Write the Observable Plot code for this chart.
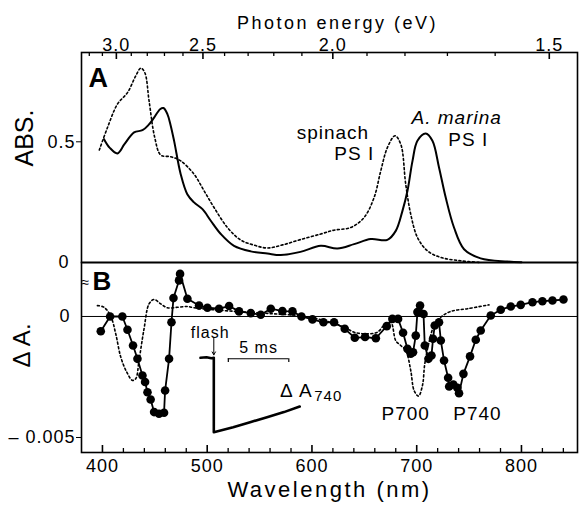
<!DOCTYPE html>
<html>
<head>
<meta charset="utf-8">
<script src="https://cdn.jsdelivr.net/npm/d3@7"></script>
<script src="https://cdn.jsdelivr.net/npm/@observablehq/plot@0.6"></script>
<style>
  body { margin: 0; background: white; }
  #wrap { position: relative; width: 581px; height: 506px; background: white; }
  #wrap svg { display: block; overflow: visible; }
  #wrap svg text { letter-spacing: 1px; }
  #inset { position: absolute; left: 195px; top: 320px; }
</style>
</head>
<body>
<div id="wrap">
  <div id="a"></div>
  <div id="b"></div>
  <div id="inset"></div>
</div>
<script>
const HC = 1239.84; // nm·eV

// ---------- Axis tick values ----------
const energyMajor = [3.0, 2.5, 2.0, 1.5];
const energyMinor = [3.2, 3.1, 2.9, 2.8, 2.7, 2.6, 2.4, 2.3, 2.2, 2.1, 1.9, 1.8, 1.7, 1.6];
const wlMajor = [400, 500, 600, 700, 800];
const wlMinor = [420, 440, 460, 480, 520, 540, 560, 580, 620, 640, 660, 680, 720, 740, 760, 780, 820, 840];
const absTicks = [0, 0.5];
const dATicks = [0, -0.005];

// ---------- Panel A: absorption spectra (wavelength nm, ABS) ----------
const marinaAbsWl = [401.5,407,414.3,421,430.2,438.2,444,449.3,455,458.2,462,465,468.4,474.7,481,487.4,495.5,503.4,513,525.6,541.6,557.5,570.2,589,608.4,624.3,640.2,656.1,672,680,686.4,691.2,696,700.7,708.6,715,721.3,727.7,735.6,745.2,761,786.6,800];
const marinaAbs   = [0.511,0.475,0.452,0.49,0.539,0.548,0.57,0.60,0.635,0.64,0.615,0.57,0.504,0.366,0.283,0.249,0.221,0.173,0.118,0.069,0.046,0.037,0.031,0.044,0.069,0.058,0.076,0.097,0.094,0.131,0.214,0.297,0.421,0.504,0.534,0.504,0.394,0.269,0.145,0.055,0.017,0.004,0.001];

const spinachAbsWl = [397,404.8,414.3,423.9,431.8,436.6,440.4,444.5,449.9,455.7,465.2,474.7,487.4,497,506.5,519.3,532,544.7,557.5,572,589,608.4,621,637,649.7,659.3,665.7,672,679.3,684.8,689.5,694.3,700.7,710.3,723,742,761];
const spinachAbs   = [0.466,0.559,0.656,0.704,0.773,0.805,0.787,0.67,0.518,0.445,0.438,0.421,0.366,0.297,0.228,0.145,0.093,0.072,0.06,0.073,0.095,0.118,0.134,0.145,0.186,0.269,0.38,0.476,0.525,0.49,0.325,0.2,0.104,0.048,0.021,0.007,0];

// ---------- Panel B: flash-induced difference spectra (wavelength nm, ΔA) ----------
const marinaDAWl = [398.4,407.3,419,423.9,429.2,433.4,438.2,440.7,443,446,449.3,454,458.8,459.8,463.6,465.9,467.8,473.1,474.1,481.1,492.2,500.2,511.3,520.9,530.4,541.6,551.1,560.7,571.8,581.4,590,600.5,611,621.1,631.3,640.9,650.7,661,671.4,676.8,682.2,687,691.2,694.3,696.5,699.1,700.7,703.2,706.5,707.7,711.2,714.1,715.6,717.2,721.3,723,726.1,730,731,735,738.9,740.4,744.6,750.9,756.4,761.1,770.7,780.2,789.8,799.3,810.5,820,829.6,840.1];
const marinaDA   = [-0.00061,0,0,-0.00055,-0.0012,-0.00175,-0.00244,-0.00271,-0.00313,-0.00343,-0.00395,-0.00402,-0.00398,-0.00306,-0.00175,-0.00024,0.00076,0.00149,0.00176,0.00073,0.00045,0.00036,0.00032,0.00043,0.00021,0.00014,0.00007,0.00032,0.00022,0.00021,0,-0.00012,-0.00024,-0.00024,-0.00051,-0.00088,-0.00085,-0.0009,-0.0004,-0.0001,-0.0001,-0.00067,-0.00134,-0.00154,-0.00148,-0.00079,0.00018,0.00045,0.0001,-0.0012,-0.00175,-0.00161,-0.00092,-0.00037,-0.00024,-0.00099,-0.00182,-0.00253,-0.00289,-0.00281,-0.00295,-0.00317,-0.00237,-0.00165,-0.00096,-0.00058,0.00004,0.00028,0.00041,0.00048,0.00059,0.00063,0.00066,0.0007];

const spinachDAWl = [395.2,401.5,408,412.7,417.5,423.2,428.6,431.8,434.9,439.7,444.5,449.3,455.7,462,471.6,481.1,487.4,500,530,560,590,610,630.7,640.2,653,662.5,668.8,675.2,680,684.8,689.5,694.3,697.5,701.7,705.5,707.7,711.8,716.6,723,732.5,748.4,769];
const spinachDA   = [0.00045,0.00038,0,-0.00072,-0.00168,-0.0023,-0.00264,-0.00257,-0.00182,-0.00051,0.00052,0.0007,0.00052,0.00036,0.00038,0.00041,0.00036,0.0003,0.0002,0.00012,0.00002,-0.00015,-0.00044,-0.00065,-0.00072,-0.00065,-0.00037,-0.00024,-0.001,-0.0012,-0.0014,-0.00223,-0.00306,-0.00329,-0.00285,-0.00196,-0.00106,-0.00037,-0.00003,0.00021,0.00032,0.00048];

// ---------- Inset: kinetic trace of ΔA740 (time ms, relative ΔA) ----------
const traceT = [-1.1,-0.6,-0.2,0,0,1.6,3,4.4,5.8,7.1];
const traceS = [0,0.008,-0.005,0,-1,-0.933,-0.866,-0.798,-0.73,-0.655];

// ---------- Annotations ----------
const labelsA = [
  {text: "spinach", x: 620, y: 0.537, italic: false},
  {text: "PS I", x: 640.4, y: 0.45, italic: false},
  {text: "A. marina", x: 738.2, y: 0.597, italic: true},
  {text: "PS I", x: 749.2, y: 0.506, italic: false}
];
const labelsB = [
  {text: "P700", x: 689.5, y: -0.00403},
  {text: "P740", x: 758, y: -0.00403}
];

// ---------- Build tables ----------
const zip = (xs, ys) => xs.map((x, i) => ({x, y: ys[i]}));
const marinaA = zip(marinaAbsWl, marinaAbs);
const spinachA = zip(spinachAbsWl, spinachAbs);
const marinaB = zip(marinaDAWl, marinaDA);
const spinachB = zip(spinachDAWl, spinachDA);
const trace = zip(traceT, traceS);

const W = 581, ML = 81, MR = 4;
const xDomain = [380, 853.5];
const FONT = "'Liberation Sans', Arial, Helvetica, sans-serif";
const baseStyle = {fontFamily: FONT, fontSize: "18px", color: "black", background: "white", overflow: "visible"};

const hA = 262, mtA = 52;
const innerA = hA - mtA;
const plotA = Plot.plot({
  width: W, height: hA, marginTop: mtA, marginBottom: 0, marginLeft: ML, marginRight: MR,
  x: {domain: xDomain, axis: null},
  y: {domain: [0, 0.87], axis: null},
  style: baseStyle,
  marks: [
    Plot.frame({stroke: "black", strokeWidth: 1.6}),
    Plot.axisX({anchor: "top", ticks: energyMajor.map(e => HC / e), tickFormat: d => (HC / d).toFixed(1),
      tickSize: 0, tickPadding: 2, label: null, fontSize: 18}),
    Plot.tickX(energyMinor.map(e => HC / e), {insetBottom: innerA - 4, strokeWidth: 1.3}),
    Plot.tickX(energyMajor.map(e => HC / e), {insetBottom: innerA - 7, strokeWidth: 1.6}),
    Plot.axisY({ticks: absTicks.filter(d => d !== 0), tickFormat: () => "0.5", tickSize: 5, tickPadding: 1, label: null, fontSize: 18}),
    Plot.axisY({ticks: absTicks.filter(d => d === 0), tickFormat: () => "0", tickSize: 0, tickPadding: 12, label: null, fontSize: 18}),
    Plot.text(["Photon energy (eV)"], {frameAnchor: "top", lineAnchor: "middle", dy: -29, dx: 8, fontSize: 18}),
    Plot.text(["ABS."], {frameAnchor: "left", lineAnchor: "middle", dx: -57, dy: 9, rotate: -90, fontSize: 25}),
    Plot.text(["A"], {frameAnchor: "top-left", lineAnchor: "middle", dx: 7, dy: 26, fontSize: 27, fontWeight: "bold", textAnchor: "start"}),
    Plot.line(spinachA, {x: "x", y: "y", curve: "catmull-rom", stroke: "black", strokeWidth: 1.6, strokeDasharray: "2,2.5"}),
    Plot.line(marinaA, {x: "x", y: "y", curve: "catmull-rom", stroke: "black", strokeWidth: 2}),
    Plot.text(labelsA.filter(d => !d.italic), {x: "x", y: "y", text: "text", fontSize: 19}),
    Plot.text(labelsA.filter(d => d.italic), {x: "x", y: "y", text: "text", fontSize: 19, fontStyle: "italic"})
  ]
});

const hB = 244, mbB = 54;
const innerB = hB - mbB;
const plotB = Plot.plot({
  width: W, height: hB, marginTop: 0, marginBottom: mbB, marginLeft: ML, marginRight: MR,
  x: {domain: xDomain, axis: null},
  y: {domain: [-0.00562, 0.00223], axis: null},
  style: baseStyle,
  marks: [
    Plot.frame({stroke: "black", strokeWidth: 1.6}),
    Plot.ruleY([0], {stroke: "black", strokeWidth: 1}),
    Plot.axisX({anchor: "bottom", ticks: wlMajor, tickFormat: d => String(d), tickSize: 0, tickPadding: 7, label: null, fontSize: 18}),
    Plot.tickX(wlMinor, {insetTop: innerB - 4, strokeWidth: 1.3}),
    Plot.tickX(wlMajor, {insetTop: innerB - 7, strokeWidth: 1.6}),
    Plot.axisY({ticks: dATicks.filter(d => d !== 0), tickFormat: () => "– 0.005", tickSize: 5, tickPadding: 1, label: null, fontSize: 18}),
    Plot.axisY({ticks: dATicks.filter(d => d === 0), tickFormat: () => "0", tickSize: 0, tickPadding: 11, label: null, fontSize: 18}),
    Plot.text(["≈"], {frameAnchor: "top-left", lineAnchor: "middle", dy: 20, fontSize: 14}),
    Plot.text(["Wavelength (nm)"], {frameAnchor: "bottom", lineAnchor: "middle", dy: 37, fontSize: 22}),
    Plot.text(["Δ A."], {frameAnchor: "left", lineAnchor: "middle", dx: -59, dy: 10, rotate: -90, fontSize: 24}),
    Plot.text(["B"], {frameAnchor: "top-left", lineAnchor: "middle", dx: 11, dy: 19, fontSize: 26, fontWeight: "bold", textAnchor: "start"}),
    Plot.line(spinachB, {x: "x", y: "y", curve: "catmull-rom", stroke: "black", strokeWidth: 1.6, strokeDasharray: "2,2.5"}),
    Plot.line(marinaB, {x: "x", y: "y", stroke: "black", strokeWidth: 1.8}),
    Plot.dot(marinaB, {x: "x", y: "y", r: 4.3, fill: "black", stroke: "none"}),
    Plot.text(labelsB, {x: "x", y: "y", text: "text", fontSize: 19})
  ]
});

// Inset kinetic trace
const scaleBar = [{t1: 1.2, t2: 6.2, s: -0.013}];
const insetPlot = Plot.plot({
  width: 160, height: 130, margin: 0,
  x: {domain: [-1.1, 7.2], range: [5, 105.4], axis: null},
  y: {domain: [-1, 0], range: [111.7, 37.3], axis: null},
  style: {fontFamily: FONT, fontSize: "16px", background: "transparent", overflow: "visible"},
  marks: [
    Plot.line(trace, {x: "x", y: "y", stroke: "black", strokeWidth: 2.6}),
    Plot.ruleY(scaleBar, {x1: "t1", x2: "t2", y: "s", stroke: "black", strokeWidth: 1.2}),
    Plot.ruleX(scaleBar, {x: "t1", y1: "s", y2: d => d.s - 0.05, stroke: "black", strokeWidth: 1.2}),
    Plot.ruleX(scaleBar, {x: "t2", y1: "s", y2: d => d.s - 0.05, stroke: "black", strokeWidth: 1.2}),
    Plot.text(scaleBar, {x: d => (d.t1 + d.t2) / 2, y: d => d.s + 0.14, text: () => "5 ms", fontSize: 16}),
    Plot.text(["flash"], {x: () => -0.3, y: () => 0.34, fontSize: 16}),
    Plot.arrow([{t: 0}], {x1: "t", x2: "t", y1: () => 0.27, y2: () => 0.04, stroke: "black", strokeWidth: 1, headLength: 5}),
    Plot.text(["Δ A"], {x: () => 5.48, y: () => -0.44, textAnchor: "start", fontSize: 19}),
    Plot.text(["740"], {x: () => 8.3, y: () => -0.51, textAnchor: "start", fontSize: 15})
  ]
});

document.getElementById("a").appendChild(plotA);
document.getElementById("b").appendChild(plotB);
document.getElementById("inset").appendChild(insetPlot);

// wider tracking for axis titles
d3.selectAll("#wrap svg text").filter(function() {
  const t = this.textContent;
  return t === "Wavelength (nm)" || t === "Photon energy (eV)";
}).style("letter-spacing", "2.5px");
d3.selectAll("#wrap svg text").filter(function() {
  const t = this.textContent;
  return t === "ABS." || t === "Δ A." || t === "A" || t === "B";
}).style("letter-spacing", "0px");
</script>
</body>
</html>
